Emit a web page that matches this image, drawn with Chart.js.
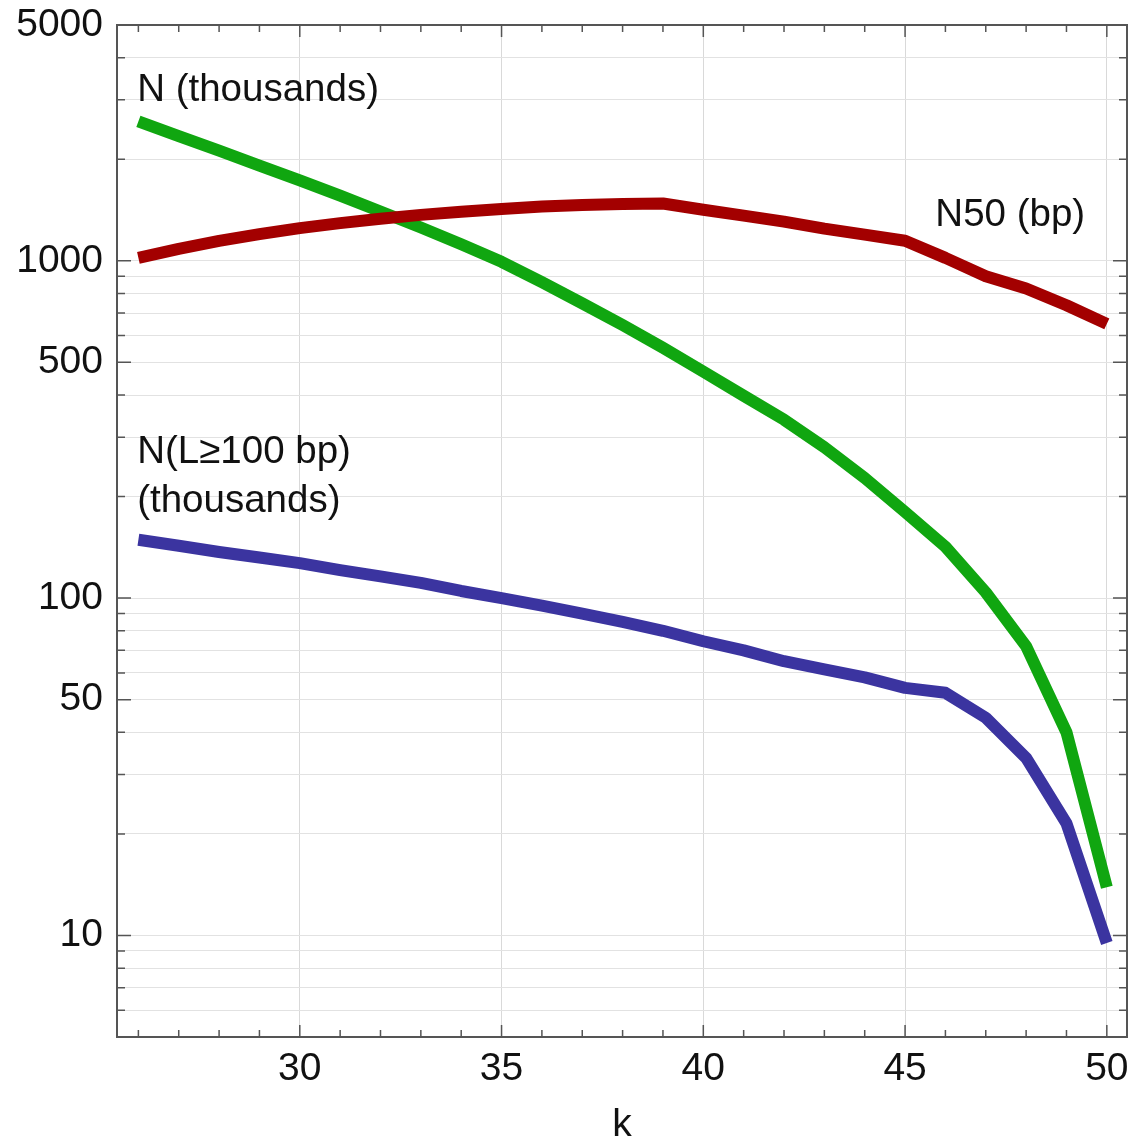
<!DOCTYPE html>
<html>
<head>
<meta charset="utf-8">
<script src="https://cdn.jsdelivr.net/npm/chart.js@4.4.1/dist/chart.umd.min.js"></script>
<style>
  html, body { margin: 0; padding: 0; background: #fff; }
  #wrap { width: 1134px; height: 1142px; }
</style>
</head>
<body>
<div id="wrap"><canvas id="kChart"></canvas></div>
<script>
// k values (x axis)
const kValues = [26, 27, 28, 29, 30, 31, 32, 33, 34, 35, 36, 37, 38, 39, 40, 41, 42, 43, 44, 45, 46, 47, 48, 49, 50];

// series
const n50Bp = [1020, 1085, 1145, 1200, 1250, 1293, 1332, 1368, 1398, 1425, 1448, 1464, 1474, 1478, 1417, 1361, 1306, 1245, 1195, 1147, 1020, 900, 828, 738, 650];
const nThousands = [2590, 2340, 2120, 1915, 1730, 1560, 1400, 1255, 1120, 993, 865, 748, 645, 552, 469, 398, 338, 280, 227, 180, 142, 104, 72, 40, 13.9];
const nLongThousands = [149, 143, 137, 132, 127, 121, 116, 111, 105, 100, 95, 90, 85, 80, 74.5, 70, 65, 61.5, 58.2, 54.2, 52.4, 44.2, 33.6, 21.5, 9.5];

// axis ticks
const xLabelled = [30, 35, 40, 45, 50];
const yLabelled = [10, 50, 100, 500, 1000, 5000];

// text labels placed in data coordinates
const noteTexts = ['N (thousands)', 'N50 (bp)', 'N(L\u2265100 bp)', '(thousands)'];
const noteK = [25.97, 45.75, 25.97, 25.97];
const noteVal = [3200, 1361, 270, 194];

Chart.defaults.font.family = '"Liberation Sans", Arial, Helvetica, sans-serif';
Chart.defaults.font.size = 39;
Chart.defaults.color = '#111';

const yTickValues = [];
[1, 10, 100, 1000].forEach(dec => {
    for (let m = 1; m <= 9; m++) {
        const v = m * dec;
        if (v >= 5 && v <= 5000) yTickValues.push(v);
    }
});

const toPoints = (vals) => vals.map((v, i) => ({ x: kValues[i], y: v }));

// no extra room for overhanging tick labels
const noOverhang = (scale) => {
    scale.paddingTop = 0;
    scale.paddingBottom = 0;
    scale.paddingLeft = 0;
    scale.paddingRight = 0;
};

// box, inner tick marks and the curve labels
const frameAndNotes = {
    id: 'frameAndNotes',
    afterDatasetsDraw(chart) {
        const { ctx, chartArea: a, scales: { x, y } } = chart;
        ctx.save();
        ctx.strokeStyle = '#555';
        ctx.lineWidth = 1.5;
        ctx.beginPath();
        x.ticks.forEach(t => {
            const px = x.getPixelForValue(t.value);
            const len = xLabelled.includes(t.value) ? 12 : 7;
            ctx.moveTo(px, a.bottom); ctx.lineTo(px, a.bottom - len);
            ctx.moveTo(px, a.top); ctx.lineTo(px, a.top + len);
        });
        y.ticks.forEach(t => {
            const py = y.getPixelForValue(t.value);
            const len = yLabelled.includes(t.value) ? 14 : 8;
            ctx.moveTo(a.left, py); ctx.lineTo(a.left + len, py);
            ctx.moveTo(a.right, py); ctx.lineTo(a.right - len, py);
        });
        ctx.stroke();
        ctx.lineWidth = 2;
        ctx.strokeRect(a.left, a.top, a.right - a.left, a.bottom - a.top);

        ctx.fillStyle = '#111';
        ctx.font = '38.5px "Liberation Sans", Arial, sans-serif';
        ctx.textAlign = 'left';
        ctx.textBaseline = 'middle';
        noteTexts.forEach((txt, i) => {
            ctx.fillText(txt, x.getPixelForValue(noteK[i]), y.getPixelForValue(noteVal[i]));
        });
        ctx.restore();
    }
};

const ctx = document.getElementById('kChart').getContext('2d');
new Chart(ctx, {
    type: 'line',
    data: {
        datasets: [
            { label: 'N50 (bp)', data: toPoints(n50Bp), borderColor: '#a30000' },
            { label: 'N (thousands)', data: toPoints(nThousands), borderColor: '#10a610' },
            { label: 'N(L\u2265100 bp) (thousands)', data: toPoints(nLongThousands), borderColor: '#3b34a0' },
        ],
    },
    options: {
        responsive: true,
        maintainAspectRatio: false,
        animation: false,
        layout: { padding: { top: 25, right: 7, left: 0, bottom: 0 } },
        elements: {
            line: { borderWidth: 12, tension: 0, borderCapStyle: 'butt', borderJoinStyle: 'round', fill: false },
            point: { radius: 0 },
        },
        plugins: {
            legend: { display: false },
            tooltip: { enabled: false },
        },
        scales: {
            x: {
                type: 'linear',
                min: 25.47,
                max: 50.5,
                afterBuildTicks: (scale) => {
                    scale.ticks = kValues.map(v => ({ value: v }));
                },
                afterFit: (scale) => { scale.height = 105; noOverhang(scale); },
                ticks: {
                    autoSkip: false,
                    maxRotation: 0,
                    padding: 9,
                    callback: (v) => xLabelled.includes(v) ? String(v) : '',
                },
                grid: {
                    drawTicks: false,
                    color: (c) => (c.tick && xLabelled.includes(c.tick.value)) ? '#d9d9d9' : 'rgba(0,0,0,0)',
                    lineWidth: 1,
                },
                border: { display: false },
                title: {
                    display: true,
                    text: 'k',
                    font: { size: 39, lineHeight: 1 },
                    padding: { top: 0, bottom: -3 },
                },
            },
            y: {
                type: 'logarithmic',
                min: 5,
                max: 5000,
                afterBuildTicks: (scale) => {
                    scale.ticks = yTickValues.map(v => ({ value: v }));
                },
                afterFit: (scale) => { scale.width = 117; noOverhang(scale); },
                ticks: {
                    autoSkip: false,
                    padding: 14,
                    callback: (v) => yLabelled.includes(v) ? String(v) : '',
                },
                grid: {
                    drawTicks: false,
                    color: '#e2e2e2',
                    lineWidth: 1,
                },
                border: { display: false },
            },
        },
    },
    plugins: [frameAndNotes],
});
</script>
</body>
</html>
